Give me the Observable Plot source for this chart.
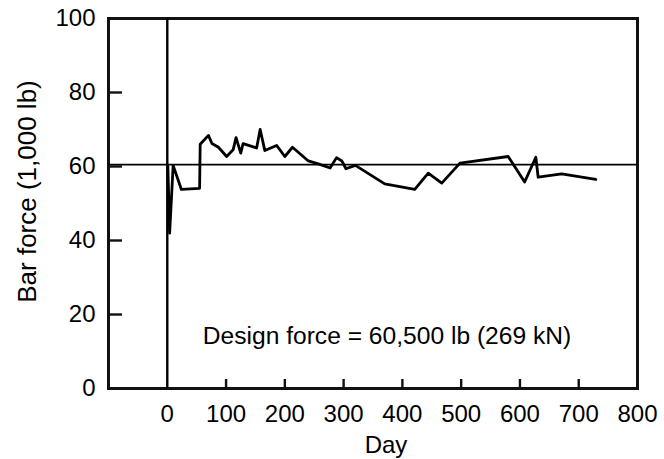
<!DOCTYPE html>
<html>
<head>
<meta charset="utf-8">
<script src="https://cdn.jsdelivr.net/npm/d3@7"></script>
<script src="https://cdn.jsdelivr.net/npm/@observablehq/plot@0.6"></script>
<style>
  html, body { margin: 0; padding: 0; background: #fff; }
</style>
</head>
<body>
<div id="chart"></div>
<script>
// Day of reading
const days = [1, 4, 10, 24, 55, 56, 70, 76, 87, 101, 112, 117, 125, 129, 152, 158, 166, 186, 200, 213, 240, 257, 277, 288, 297, 304, 320, 370, 421, 444, 467, 498, 580, 608, 627, 631, 671, 729];
// Bar force (1,000 lb)
const force = [60, 42, 60.3, 53.8, 54.1, 66, 68.4, 66.2, 65.2, 62.7, 64.5, 67.8, 63.6, 66.2, 65, 70, 64.3, 65.7, 62.7, 65.2, 61.5, 60.7, 59.6, 62.4, 61.5, 59.4, 60.3, 55.3, 53.8, 58.2, 55.5, 60.9, 62.7, 55.8, 62.5, 57.1, 58, 56.5];

const designForce = 60.5;
const designLabel = ["Design force = 60,500 lb (269 kN)"];
const xTicks = [0, 100, 200, 300, 400, 500, 600, 700, 800];
const xTickMarks = [100, 200, 300, 400, 500, 600, 700];
const yTicks = [0, 20, 40, 60, 80, 100];
const yTickMarks = [20, 40, 60, 80];
const xLabel = ["Day"];
const yLabel = ["Bar force (1,000 lb)"];

const data = days.map((d, i) => ({day: d, force: force[i]}));

const font = "Liberation Sans, Arial, sans-serif";
const txt = {fill: "black", fontFamily: font, fontSize: 24};

const chart = Plot.plot({
  width: 664,
  height: 459,
  marginTop: 18,
  marginBottom: 71,
  marginLeft: 108,
  marginRight: 27,
  x: {domain: [-100, 800], axis: null},
  y: {domain: [0, 100], axis: null},
  marks: [
    Plot.frame({stroke: "#111", strokeWidth: 3}),
    Plot.ruleY([designForce], {y: d => d, stroke: "black", strokeWidth: 1.6}),
    Plot.ruleX([0], {x: d => d, stroke: "black", strokeWidth: 2.4}),
    Plot.tickY(yTickMarks, {y: d => d, insetRight: 515, stroke: "#111", strokeWidth: 2.4}),
    Plot.tickX(xTickMarks, {x: d => d, insetTop: 361, stroke: "#111", strokeWidth: 2.4}),
    Plot.line(data, {x: "day", y: "force", stroke: "black", strokeWidth: 2.8}),
    Plot.text(yTicks, {...txt, x: -100, y: d => d, text: d => String(d), textAnchor: "end", dx: -13}),
    Plot.text(xTicks, {...txt, x: d => d, y: 0, text: d => String(d), lineAnchor: "top", dy: 16}),
    Plot.text(designLabel, {...txt, frameAnchor: "bottom", textAnchor: "middle", lineAnchor: "middle", dx: 14, dy: -52, fontSize: 24.6}),
    Plot.text(xLabel, {...txt, frameAnchor: "bottom", textAnchor: "middle", lineAnchor: "middle", dx: 13, dy: 57}),
    Plot.text(yLabel, {...txt, frameAnchor: "left", textAnchor: "middle", lineAnchor: "middle", rotate: -90, dx: -81, dy: -12, fontSize: 26})
  ]
});
document.getElementById("chart").appendChild(chart);
</script>
</body>
</html>
